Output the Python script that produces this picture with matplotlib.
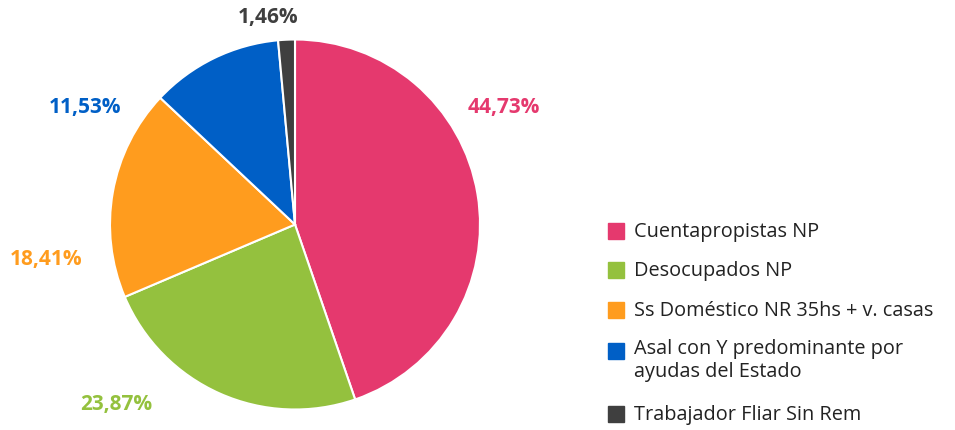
import matplotlib
matplotlib.use("Agg")
import matplotlib.pyplot as plt
from matplotlib.patches import Rectangle

plt.rcParams['font.family'] = ['Open Sans', 'DejaVu Sans']

categorias = ['Cuentapropistas NP', 'Desocupados NP', 'Ss Doméstico NR 35hs + v. casas',
              'Asal con Y predominante por\nayudas del Estado', 'Trabajador Fliar Sin Rem']
valores = [44.73, 23.87, 18.41, 11.53, 1.46]
etiquetas = ['44,73%', '23,87%', '18,41%', '11,53%', '1,46%']
colores = ['#E5396E', '#94C13E', '#FF9C1E', '#005FC6', '#3F3F3F']

# posiciones de las etiquetas en pixeles de la figura (x, y desde arriba)
pos_etiquetas = [(504, 108), (116, 405), (46, 260), (85, 108), (268, 17)]

W, H = 955, 431
fig = plt.figure(figsize=(W / 100, H / 100), dpi=100)

cx, cy, r = 295, 225.5, 185
ax = fig.add_axes([(cx - r) / W, 1 - (cy + r) / H, 2 * r / W, 2 * r / H])
ax.pie(valores, colors=colores, startangle=90, counterclock=False,
       wedgeprops=dict(edgecolor='white', linewidth=1.5))
ax.set_xlim(-1, 1)
ax.set_ylim(-1, 1)
ax.set_aspect('equal')

for (x, y), txt, c in zip(pos_etiquetas, etiquetas, colores):
    fig.text(x / W, 1 - y / H, txt, color=c, fontsize=15, fontweight='bold',
             ha='center', va='center')

# leyenda manual
ys = [232, 271, 311, 352, 415]
for y, lab, c in zip(ys, categorias, colores):
    fig.patches.append(Rectangle((608 / W, 1 - (y + 8) / H), 16 / W, 16 / H,
                                 transform=fig.transFigure, color=c))
    if '\n' in lab:
        fig.text(634 / W, 1 - (y - 13) / H, lab, fontsize=14.3, color='#222222',
                 ha='left', va='top', linespacing=1.2)
    else:
        fig.text(634 / W, 1 - y / H, lab, fontsize=14.3, color='#222222',
                 ha='left', va='center')

fig.savefig('out.png', dpi=100)
